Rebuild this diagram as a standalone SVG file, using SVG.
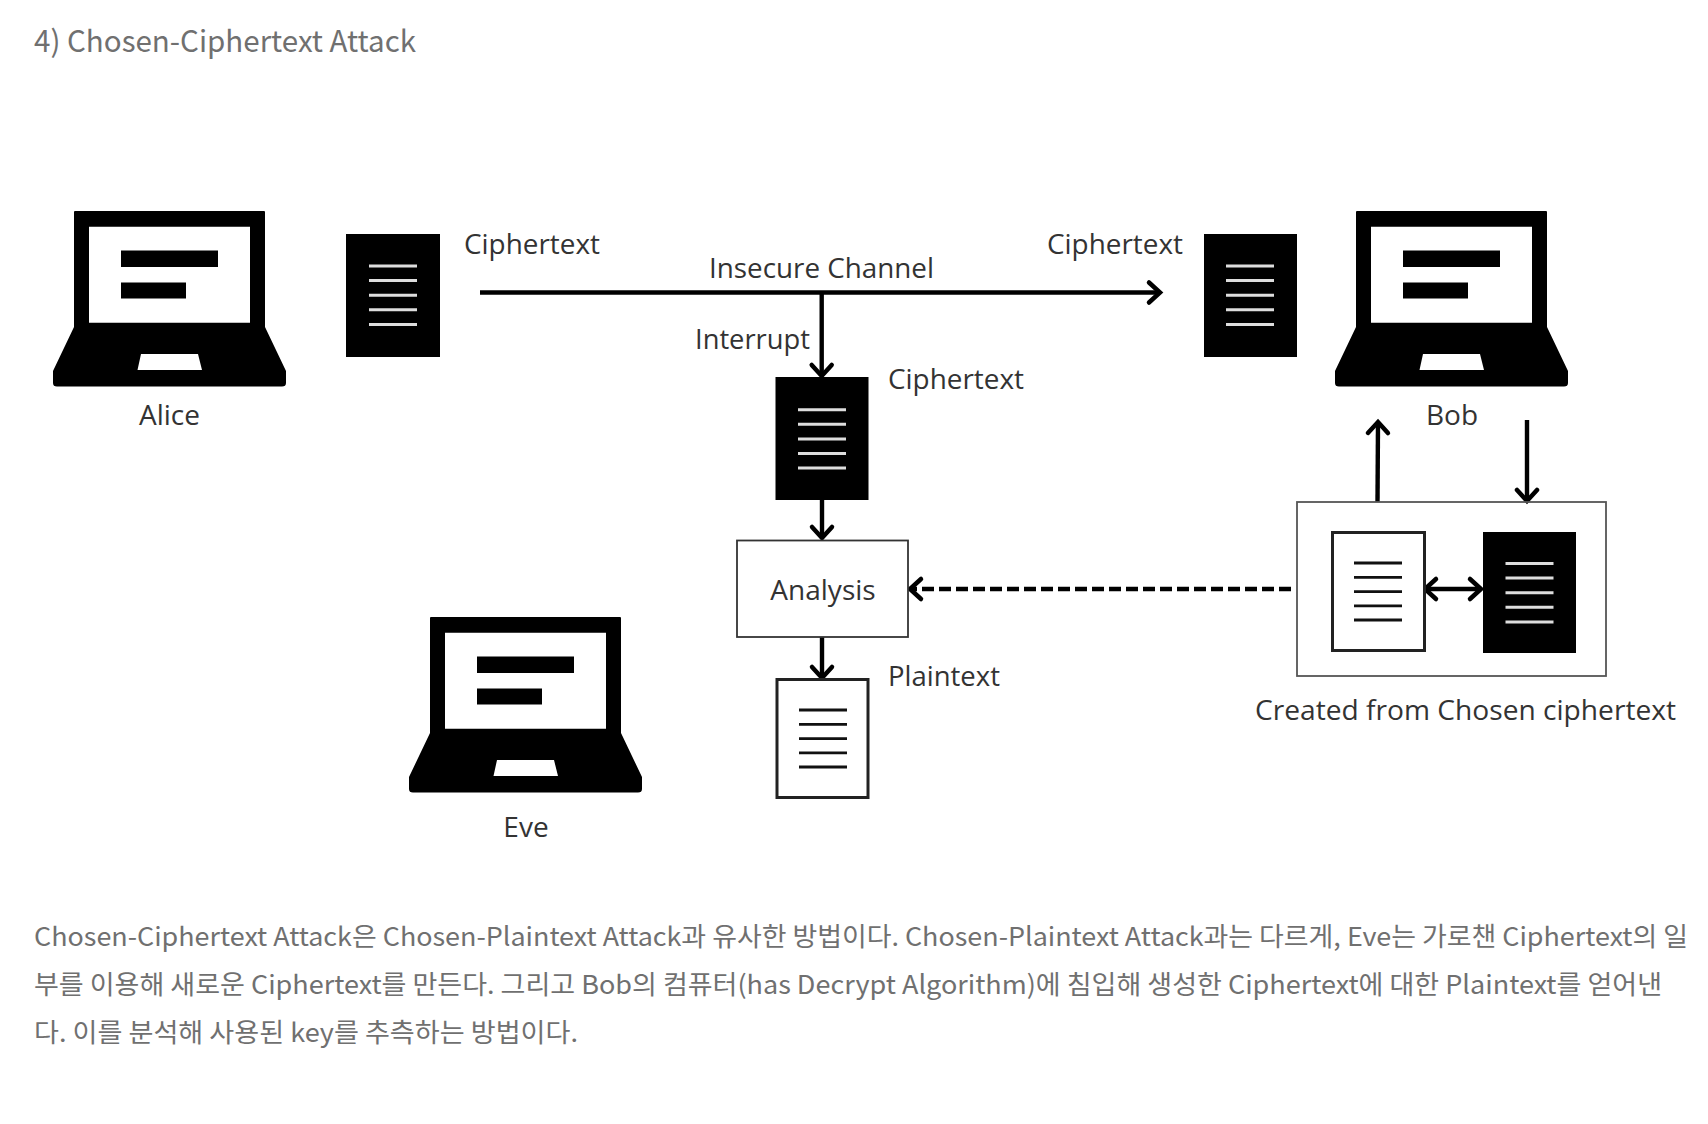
<svg xmlns="http://www.w3.org/2000/svg" width="1708" height="1124" viewBox="0 0 1708 1124">
<style>
.d{font-family:"Open Sans","Noto Sans",sans-serif;font-size:28px;fill:#333}
.p{font-family:"Noto Sans CJK KR","Noto Sans",sans-serif;font-size:26px;fill:#707070}
.c{fill:none;stroke:#000;stroke-width:4.4}
.lw{stroke:#ddd;stroke-width:3}
.lb{stroke:#111;stroke-width:2.8}
</style>
<defs>
<marker id="a" markerUnits="userSpaceOnUse" markerWidth="24" markerHeight="28" refX="19" refY="14" orient="auto-start-reverse" overflow="visible"><path d="M8 4L19 14L8 24" fill="none" stroke="#000" stroke-width="4.500" stroke-linecap="round" stroke-linejoin="miter"/></marker>
<g id="laptop"><path fill-rule="evenodd" d="M74 212Q74 211 75 211H264Q265 211 265 212V327L286 371V383Q286 386.500 282 386.500H57Q53 386.500 53 383V371L74 327ZM89 226.800V322.700H250V226.800ZM141 354L137.500 370H202L198 354Z"/><path d="M121 250.500H218V267H121ZM121 282.500H186V298.500H121Z"/></g>
<g id="lw"><path class="lw" d="M0 0H48M0 14.600H48M0 29.200H48M0 43.800H48M0 58.400H48"/></g>
<g id="lb"><path class="lb" d="M0 0H48M0 14.300H48M0 28.600H48M0 42.900H48M0 57H48"/></g>
</defs>
<rect width="1708" height="1124" fill="#fff"/>
<text class="p" x="34" y="52" style="font-size:30px" textLength="382" lengthAdjust="spacingAndGlyphs">4) Chosen-Ciphertext Attack</text>
<g id="connectors">
<path class="c" d="M480 292.500H1160" marker-end="url(#a)"/>
<path class="c" d="M821.700 292V376" marker-end="url(#a)"/>
<path class="c" d="M822 500V538" marker-end="url(#a)"/>
<path class="c" d="M822 637V678" marker-end="url(#a)"/>
<path class="c" d="M1377.500 502L1378 422" marker-end="url(#a)"/>
<path class="c" d="M1527 420V501" marker-end="url(#a)"/>
<path class="c" d="M1291 589H910" stroke-dasharray="12 5" marker-end="url(#a)"/>
<path class="c" d="M1425 589H1481" marker-start="url(#a)" marker-end="url(#a)"/>
</g>
<g id="alice"><use href="#laptop"/><text class="d" x="169.500" y="425" text-anchor="middle">Alice</text></g>
<g id="bob"><use href="#laptop" x="1282"/><text class="d" x="1452" y="425" text-anchor="middle">Bob</text></g>
<g id="eve"><use href="#laptop" x="356" y="406"/><text class="d" x="526" y="837" text-anchor="middle">Eve</text></g>
<g id="doc-alice"><rect x="346" y="234" width="94" height="123"/><use href="#lw" x="369" y="266"/><text class="d" x="464" y="254" textLength="136" lengthAdjust="spacingAndGlyphs">Ciphertext</text></g>
<g id="doc-bob"><rect x="1204" y="234" width="93" height="123"/><use href="#lw" x="1226" y="266"/><text class="d" x="1047" y="254" textLength="136" lengthAdjust="spacingAndGlyphs">Ciphertext</text></g>
<g id="channel-label"><text class="d" x="709" y="278" textLength="225" lengthAdjust="spacingAndGlyphs">Insecure Channel</text></g>
<g id="interrupt-label"><text class="d" x="695" y="349" textLength="115" lengthAdjust="spacingAndGlyphs">Interrupt</text></g>
<g id="doc-eve"><rect x="775.500" y="377" width="93" height="123"/><use href="#lw" x="798" y="409.700"/><text class="d" x="888" y="389" textLength="136" lengthAdjust="spacingAndGlyphs">Ciphertext</text></g>
<g id="analysis"><rect x="737" y="540.500" width="171" height="96.500" fill="#fff" stroke="#333" stroke-width="1.800"/><text class="d" x="823" y="600" text-anchor="middle">Analysis</text></g>
<g id="plaintext"><rect x="777" y="679.500" width="91" height="118" fill="#fff" stroke="#222" stroke-width="3"/><use href="#lb" x="799" y="710"/><text class="d" x="888" y="685.500" textLength="112" lengthAdjust="spacingAndGlyphs">Plaintext</text></g>
<g id="chosen"><rect x="1297" y="502" width="309" height="174" fill="none" stroke="#555" stroke-width="1.800"/><rect x="1332.500" y="532.500" width="92" height="118" fill="#fff" stroke="#222" stroke-width="3"/><use href="#lb" x="1354" y="563"/><rect x="1483" y="532" width="93" height="121"/><use href="#lw" x="1505.500" y="563.500"/><text class="d" x="1255" y="720" textLength="421" lengthAdjust="spacingAndGlyphs">Created from Chosen ciphertext</text></g>
<g id="body">
<text class="p" x="34" y="945.500" textLength="1654" lengthAdjust="spacingAndGlyphs">Chosen-Ciphertext Attack은 Chosen-Plaintext Attack과 유사한 방법이다. Chosen-Plaintext Attack과는 다르게, Eve는 가로챈 Ciphertext의 일</text>
<text class="p" x="34" y="993.500" textLength="1628" lengthAdjust="spacingAndGlyphs">부를 이용해 새로운 Ciphertext를 만든다. 그리고 Bob의 컴퓨터(has Decrypt Algorithm)에 침입해 생성한 Ciphertext에 대한 Plaintext를 얻어낸</text>
<text class="p" x="34" y="1041.500" textLength="544" lengthAdjust="spacingAndGlyphs">다. 이를 분석해 사용된 key를 추측하는 방법이다.</text>
</g>
</svg>
